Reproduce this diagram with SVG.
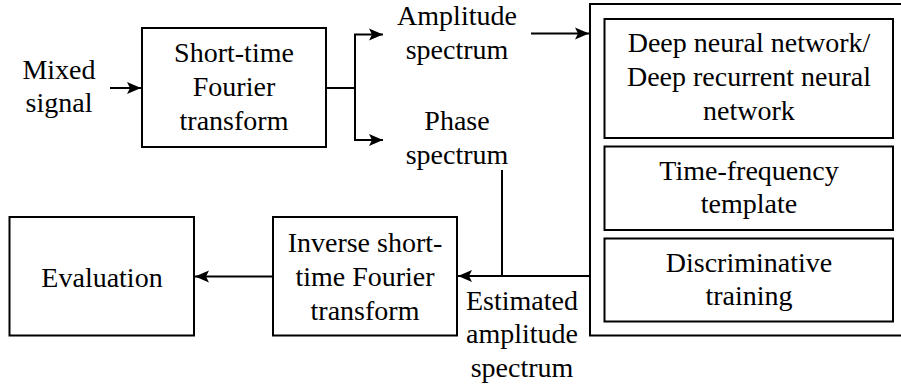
<svg xmlns="http://www.w3.org/2000/svg" width="901" height="388" viewBox="0 0 901 388">
<style>
.box{fill:#fff;stroke:#000;stroke-width:2}
.ln{fill:none;stroke:#000;stroke-width:2}
.t{font-size:28px;fill:#000;text-anchor:middle}
</style>
<defs>
<marker id="ah" markerUnits="userSpaceOnUse" markerWidth="16" markerHeight="14" refX="14" refY="7" orient="auto">
<path d="M0,1 L14,7 L0,13 L3,7 z" fill="#000"/>
</marker>
</defs>
<rect width="901" height="388" fill="#fff"/>
<g id="mixed" class="t" font-family="Tinos, Liberation Serif, Times New Roman, serif">
<text x="59" y="79">Mixed</text>
<text x="59" y="112">signal</text>
</g>
<g id="stft" class="t" font-family="Tinos, Liberation Serif, Times New Roman, serif">
<rect class="box" x="142" y="28" width="184" height="119"/>
<text x="234" y="62">Short-time</text>
<text x="234" y="96">Fourier</text>
<text x="234" y="130">transform</text>
</g>
<g id="amp" class="t" font-family="Tinos, Liberation Serif, Times New Roman, serif">
<text x="457" y="25">Amplitude</text>
<text x="457" y="59">spectrum</text>
</g>
<g id="phase" class="t" font-family="Tinos, Liberation Serif, Times New Roman, serif">
<text x="457" y="130">Phase</text>
<text x="457" y="164">spectrum</text>
</g>
<g id="container">
<rect class="box" x="590" y="4" width="320" height="331.5"/>
</g>
<g id="dnn" class="t" font-family="Tinos, Liberation Serif, Times New Roman, serif">
<rect class="box" x="604.5" y="19" width="288.5" height="119"/>
<text x="749" y="52">Deep neural network/</text>
<text x="749" y="86">Deep recurrent neural</text>
<text x="749" y="120">network</text>
</g>
<g id="tf" class="t" font-family="Tinos, Liberation Serif, Times New Roman, serif">
<rect class="box" x="604.5" y="146.5" width="288.5" height="83.5"/>
<text x="749" y="180">Time-frequency</text>
<text x="749" y="213">template</text>
</g>
<g id="disc" class="t" font-family="Tinos, Liberation Serif, Times New Roman, serif">
<rect class="box" x="604.5" y="238.5" width="288.5" height="83"/>
<text x="749" y="272">Discriminative</text>
<text x="749" y="305">training</text>
</g>
<g id="istft" class="t" font-family="Tinos, Liberation Serif, Times New Roman, serif">
<rect class="box" x="273" y="217" width="184" height="118.5"/>
<text x="365" y="252">Inverse short-</text>
<text x="365" y="286">time Fourier</text>
<text x="365" y="320">transform</text>
</g>
<g id="eval" class="t" font-family="Tinos, Liberation Serif, Times New Roman, serif">
<rect class="box" x="9.5" y="217" width="184.5" height="118.5"/>
<text x="102" y="287">Evaluation</text>
</g>
<g id="est" class="t" font-family="Tinos, Liberation Serif, Times New Roman, serif">
<text x="522" y="310">Estimated</text>
<text x="522" y="343">amplitude</text>
<text x="522" y="377">spectrum</text>
</g>
<g id="connectors">
<line class="ln" x1="110" y1="88" x2="141" y2="88" marker-end="url(#ah)"/>
<path class="ln" d="M326,88 H355 M355,34.5 V140"/>
<line class="ln" x1="354" y1="34.5" x2="383" y2="34.5" marker-end="url(#ah)"/>
<line class="ln" x1="354" y1="140" x2="383" y2="140" marker-end="url(#ah)"/>
<line class="ln" x1="531" y1="33.5" x2="589" y2="33.5" marker-end="url(#ah)"/>
<line class="ln" x1="502" y1="170" x2="502" y2="276"/>
<line class="ln" x1="590" y1="276" x2="458" y2="276" marker-end="url(#ah)"/>
<line class="ln" x1="273" y1="276.5" x2="195" y2="276.5" marker-end="url(#ah)"/>
</g>
</svg>
